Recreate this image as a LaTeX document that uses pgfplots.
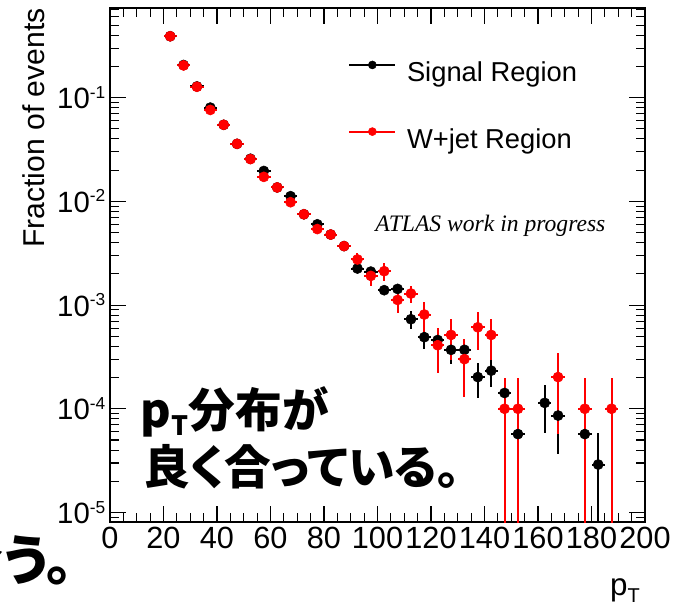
\documentclass[border=0pt]{standalone}
\usepackage{fontspec}
\setmainfont{Liberation Sans}
\newfontfamily\serifit{Liberation Serif}
\newfontfamily\jpfont{Noto Sans CJK JP}[RawFeature=+palt]
\usepackage{pgfplots}
\usepackage{pgfplotstable}
\pgfplotsset{compat=1.18}

% superscript exponent for the log tick labels
\newcommand\tsup[1]{\raisebox{8pt}{\fontsize{13}{13}\selectfont #1}}

% p_T spectra, fraction of events per 5 GeV bin
\pgfplotstableread{
x y ey
22.5 0.390 0.004
27.5 0.206 0.003
32.5 0.128 0.002
37.5 0.080 0.0015
42.5 0.0546 0.001
47.5 0.0358 0.0008
52.5 0.0257 0.0006
57.5 0.0196 0.0005
62.5 0.0136 0.0004
67.5 0.0112 0.0004
72.5 0.0075 0.0003
77.5 0.0060 0.0003
82.5 0.00478 0.00025
87.5 0.0037 0.0002
92.5 0.00225 0.00018
97.5 0.0021 0.00018
102.5 0.00139 0.00015
107.5 0.00143 0.00015
112.5 0.00073 0.00014
117.5 0.00049 0.00011
122.5 0.00046 0.0001
127.5 0.00037 0.0001
132.5 0.00037 0.00008
137.5 0.000202 0.000075
142.5 0.000233 0.00007
147.5 0.000142 0.00003
152.5 0.000057 0.00003
162.5 0.000114 0.000055
167.5 0.000086 0.000049
177.5 0.000057 0.00003
182.5 0.000029 0.0000289
}\signaltab

\pgfplotstableread{
x y ey
22.5 0.390 0.004
27.5 0.204 0.003
32.5 0.127 0.002
37.5 0.076 0.0015
42.5 0.0546 0.001
47.5 0.0358 0.0008
52.5 0.0255 0.0006
57.5 0.0172 0.0005
62.5 0.0136 0.0004
67.5 0.0098 0.0004
72.5 0.0075 0.0003
77.5 0.0054 0.0003
82.5 0.00478 0.00025
87.5 0.0037 0.0002
92.5 0.00275 0.00045
97.5 0.00191 0.0004
102.5 0.00212 0.0004
107.5 0.00112 0.00028
112.5 0.00129 0.00025
117.5 0.00081 0.00026
122.5 0.00041 0.00019
127.5 0.000515 0.00022
132.5 0.000301 0.00017
137.5 0.00061 0.00024
142.5 0.000515 0.00022
147.5 0.0001 0.0000999
152.5 0.0001 0.0000999
167.5 0.000202 0.000145
177.5 0.0001 0.0000999
187.5 0.0001 0.0000999
}\wjettab

\begin{document}
\begin{tikzpicture}
\fill[white] (-82.5pt,-66pt) rectangle (422.25pt,391.5pt);
\begin{axis}[
  scale only axis,
  width=401.25pt, height=385.5pt,
  at={(0pt,0pt)}, anchor=south west,
  xmin=0, xmax=200,
  ymode=log, ymin=8.1e-6, ymax=0.73,
  xtick={0,20,...,200},
  xticklabels={0,20,40,60,80,100,120,140,160,180,200},
  minor x tick num=3,
  ytick={1e-5,1e-4,1e-3,1e-2,1e-1},
  yticklabels={10\tsup{-5},10\tsup{-4},10\tsup{-3},10\tsup{-2},10\tsup{-1}},
  minor ytick={9e-6,2e-5,3e-5,4e-5,5e-5,6e-5,7e-5,8e-5,9e-5,
               2e-4,3e-4,4e-4,5e-4,6e-4,7e-4,8e-4,9e-4,
               2e-3,3e-3,4e-3,5e-3,6e-3,7e-3,8e-3,9e-3,
               2e-2,3e-2,4e-2,5e-2,6e-2,7e-2,8e-2,9e-2,
               2e-1,3e-1,4e-1,5e-1,6e-1,7e-1},
  tick align=inside,
  major tick length=12pt, minor tick length=6.75pt,
  every tick/.style={black, line width=0.8pt},
  axis line style={line width=0.9pt},
  xticklabel style={font=\fontsize{23}{23}\selectfont},
  yticklabel style={font=\fontsize{22}{22}\selectfont},
  clip=true,
  legend cell align=left,
  legend image code/.code={\draw[mark repeat=2,mark phase=2,#1] plot coordinates {(0pt,7.5pt)(17.25pt,7.5pt)(34.5pt,7.5pt)};},
  legend style={draw=none, fill=none, inner sep=0pt, outer sep=0pt,
    at={(rel axis cs:0.4455,0.897)}, anchor=north west,
    font=\fontsize{20.5}{25}\selectfont,
    row sep=29.5pt,
    nodes={inner sep=0pt, text height=15pt, text depth=5pt},
    /tikz/every odd column/.append style={column sep=8pt}},
]
\addlegendimage{black, line width=1.5pt, mark=*, mark size=3pt, mark options={line width=0.4pt}}
\addlegendentry{Signal Region}
\addlegendimage{red, line width=1.5pt, mark=*, mark size=3pt, mark options={line width=0.4pt}}
\addlegendentry{W+jet Region}

\addplot[black, only marks, mark=*, mark size=3.8pt, mark options={line width=0.4pt},
  error bars/.cd, x dir=both, x fixed=2.5, y dir=both, y explicit,
  error bar style={line width=1.5pt}, error mark=none]
  table[x=x, y=y, y error=ey] {\signaltab};
\addplot[red, only marks, mark=*, mark size=3.8pt, mark options={line width=0.4pt},
  error bars/.cd, x dir=both, x fixed=2.5, y dir=both, y explicit,
  error bar style={line width=1.5pt}, error mark=none]
  table[x=x, y=y, y error=ey] {\wjettab};
\end{axis}

% axis titles
\node[rotate=90, anchor=base east, inner sep=0pt, font=\fontsize{22.6}{22.6}\selectfont]
  at (-48.75pt,385.5pt) {Fraction of events};
\node[anchor=base east, inner sep=0pt, font=\fontsize{23.5}{23.5}\selectfont]
  at (397.5pt,-55pt) {p\raisebox{-5pt}{\fontsize{15}{15}\selectfont T}};

% label inside the frame
\node[anchor=base west, inner sep=0pt, font=\serifit\itshape\fontsize{17.7}{17.7}\selectfont]
  at (198.75pt,217.5pt) {ATLAS work in progress};

% slide annotations
\node[anchor=base west, inner sep=0pt, font=\jpfont\bfseries\fontsize{35}{35}\selectfont]
  at (23pt,71pt) {p\raisebox{-6pt}{\fontsize{20}{20}\selectfont T}分布が};
\node[anchor=base west, inner sep=0pt, font=\jpfont\bfseries\fontsize{35}{35}\selectfont]
  at (25pt,28.5pt) {良く合っている。};
\node[anchor=base west, inner sep=0pt, font=\jpfont\bfseries\fontsize{41}{41}\selectfont]
  at (-121pt,-43.5pt) {合う。};

\pgfresetboundingbox
\useasboundingbox (-82.5pt,-66pt) rectangle (422.25pt,391.5pt);
\end{tikzpicture}
\end{document}
